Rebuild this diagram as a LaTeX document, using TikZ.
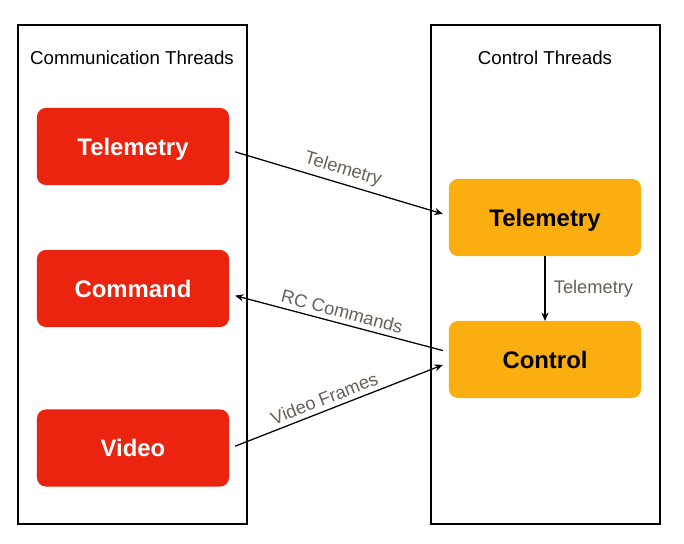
\documentclass[tikz,border=0pt]{standalone}
\usepackage{fontspec}
\setmainfont{Liberation Sans}
\usetikzlibrary{arrows.meta}
\definecolor{commred}{RGB}{234,36,14}
\definecolor{ctrlorange}{RGB}{251,174,16}
\definecolor{labelgray}{RGB}{105,95,90}
\tikzset{
  commbox/.style={fill=commred, text=white, rounded corners=0.22cm,
    minimum width=4.8cm, minimum height=1.925cm, inner sep=0pt, text depth=0pt,
    outer xsep=4.3pt, outer ysep=0pt, font=\fontsize{17}{20}\selectfont\bfseries},
  ctrlbox/.style={commbox, fill=ctrlorange, text=black},
  threadframe/.style={draw, line width=1.4pt},
  title/.style={font=\fontsize{13.3}{16}\selectfont},
  msg/.style={-{Stealth[length=6pt,width=5pt]}, line width=0.9pt},
  msglabel/.style={text=labelgray, font=\fontsize{13}{15}\selectfont}
}
\begin{document}
\begin{tikzpicture}[x=0.025cm, y=-0.025cm]
      \useasboundingbox (0,0) rectangle (684,544);
      \draw[threadframe] (18,25) rectangle (247,524);
      \draw[threadframe] (431,25) rectangle (660,524);
      \draw
        (132,58) node[title] (commtitle){Communication Threads}
        (545,58) node[title] (ctrltitle){Control Threads};
      \draw
        (133,146.5) node[commbox] (telem){Telemetry}
        (133,288.5) node[commbox] (command){Command}
        (133,448) node[commbox] (video){Video}
        (545,217.5) node[ctrlbox] (ctrltelem){Telemetry}
        (545,359.5) node[ctrlbox] (control){Control};
      \begin{scope}[msg]
        \draw (telem.-3) to node[msglabel, sloped, above] {Telemetry} (ctrltelem.178);
        \draw (control.175) to node[msglabel, sloped, above] {RC Commands} (command.-4);
        \draw (video.1) to node[msglabel, sloped, above, pos=0.45] {Video Frames} (control.183);
        \draw (ctrltelem.south) to node[msglabel, right, xshift=2.5pt] {Telemetry} (control.north);
      \end{scope}
    \end{tikzpicture}
\end{document}
